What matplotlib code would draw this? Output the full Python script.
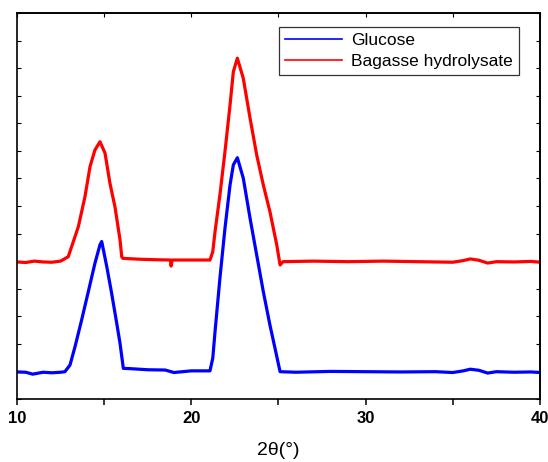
import matplotlib.pyplot as plt
from matplotlib.ticker import MultipleLocator

plt.rcParams['font.family'] = ['Liberation Sans', 'DejaVu Sans']

# Glucose pattern, points (2theta, intensity a.u.)
glucose_x = [10.0, 10.5, 10.9, 11.5, 12.0, 12.5, 12.75, 13.04, 13.33, 13.71, 14.09, 14.47,
             14.76, 14.86, 15.15, 15.43, 15.72, 15.91, 16.10, 16.5, 17.5, 18.5, 19.0,
             20.0, 21.07, 21.23, 21.36, 21.64, 21.93, 22.22, 22.41, 22.64, 22.98, 23.37,
             23.75, 24.13, 24.51, 24.80, 25.09, 26.0, 28.0, 30.0, 32.0, 34.0, 35.0,
             35.6, 36.0, 36.5, 37.0, 37.5, 38.5, 39.5, 40.0]
glucose_y = [0.98, 0.97, 0.90, 0.97, 0.95, 0.97, 0.99, 1.23, 1.90, 2.87, 3.89, 4.92,
             5.59, 5.71, 4.80, 3.83, 2.75, 2.02, 1.11, 1.10, 1.06, 1.05, 0.96,
             1.02, 1.02, 1.48, 2.44, 4.38, 6.19, 7.76, 8.49, 8.75, 8.01, 6.55,
             5.22, 3.89, 2.68, 1.84, 0.99, 0.97, 1.00, 0.99, 0.98, 0.99, 0.96,
             1.02, 1.08, 1.04, 0.94, 0.99, 0.97, 0.98, 0.96]

# Bagasse hydrolysate pattern
bagasse_x = [10.0, 10.5, 11.0, 11.5, 12.0, 12.5, 12.94, 13.52, 13.90, 14.19, 14.47, 14.76,
             15.05, 15.33, 15.62, 15.91, 16.01, 16.08, 17.0, 18.0, 18.8, 18.84, 18.9,
             20.0, 21.07, 21.23, 21.36, 21.64, 21.93, 22.22, 22.41, 22.64, 22.98, 23.37,
             23.75, 24.13, 24.51, 24.90, 25.09, 25.26, 27.0, 29.0, 31.0, 33.0, 35.0,
             35.6, 36.0, 36.5, 37.0, 37.5, 38.5, 39.5, 40.0]
bagasse_y = [4.97, 4.95, 5.00, 4.97, 4.96, 5.00, 5.16, 6.25, 7.34, 8.43, 9.03, 9.33,
             8.92, 7.83, 6.97, 5.77, 5.15, 5.10, 5.07, 5.05, 5.04, 4.82, 5.04,
             5.04, 5.04, 5.34, 6.07, 7.40, 8.97, 10.66, 11.87, 12.36, 11.63, 10.18,
             8.85, 7.76, 6.79, 5.59, 4.86, 4.98, 5.00, 4.98, 5.00, 4.98, 4.96,
             5.02, 5.08, 5.03, 4.93, 4.98, 4.97, 4.99, 4.96]

fig = plt.figure(figsize=(5.48, 4.62), dpi=100)
ax = fig.add_axes([0.031, 0.1364, 0.9544, 0.8355])

ax.plot(glucose_x, glucose_y, color='#0000ff', lw=2.3, label='Glucose')
ax.plot(bagasse_x, bagasse_y, color='#ff0000', lw=2.3, label='Bagasse hydrolysate')

ax.set_xlim(10, 40)
ax.set_ylim(0, 14)
ax.xaxis.set_major_locator(MultipleLocator(10))
ax.xaxis.set_minor_locator(MultipleLocator(5))
ax.yaxis.set_major_locator(MultipleLocator(1))
ax.set_yticklabels([])
ax.tick_params(axis='x', which='both', direction='out', length=4, width=1.1,
               labelsize=12, pad=5)
ax.tick_params(axis='y', which='both', direction='in', length=3, width=0.8, left=True)
for lab in ax.get_xticklabels():
    lab.set_fontweight('bold')

top = ax.secondary_xaxis('top')
top.xaxis.set_major_locator(MultipleLocator(5))
top.tick_params(direction='in', length=3, width=0.8, labeltop=False)
right = ax.secondary_yaxis('right')
right.yaxis.set_major_locator(MultipleLocator(1))
right.tick_params(direction='in', length=3, width=0.8, labelright=False)

for s in list(ax.spines.values()) + [top.spines['top'], right.spines['right']]:
    s.set_linewidth(1.2)

ax.set_xlabel('2θ(°)', fontsize=14, labelpad=11)

leg = ax.legend(loc='upper right', bbox_to_anchor=(0.9598, 0.9637), borderaxespad=0,
                fontsize=12.5, frameon=True, fancybox=False, handlelength=3.3,
                handletextpad=0.5, borderpad=0.35, labelspacing=0.3)
leg.get_frame().set_edgecolor('black')
leg.get_frame().set_linewidth(0.9)
for h in leg.get_lines():
    h.set_linewidth(1.2)

fig.savefig('out.png', dpi=100)
